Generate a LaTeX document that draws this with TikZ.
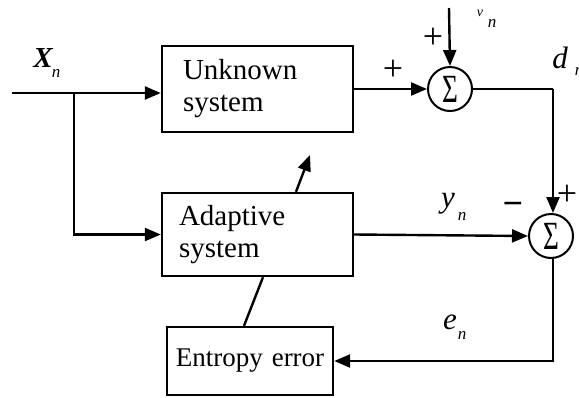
\documentclass[tikz,border=0pt]{standalone}
\usepackage{fontspec}
\usepackage{graphicx}
\setmainfont{Liberation Serif}
\usetikzlibrary{arrows.meta,calc}
\begin{document}
\begin{tikzpicture}[x=1pt,y=-1pt,
  line width=2.4pt,
  >={Triangle[length=16pt,width=13pt]},
  blk/.style={draw,line width=2.4pt,rectangle,font=\fontsize{29}{32}\selectfont,align=left,inner ysep=0pt},
  sumc/.style={draw,circle,line width=2pt,minimum size=44pt,inner sep=0pt,font=\fontsize{40}{40}\selectfont},
  sgn/.style={font=\fontsize{36}{36}\selectfont,inner sep=0pt},
  lbl/.style={font=\fontsize{31}{31}\selectfont\itshape,inner sep=0pt},
  sub/.style={font=\fontsize{17}{17}\selectfont\itshape,inner sep=0pt}]
\useasboundingbox (0,0) rectangle (579,397);
% blocks
\node[blk,minimum width=191pt,minimum height=86pt,text width=149pt,inner xsep=21pt] (unk) at (257.5,89) {Unknown\\system};
\node[blk,minimum width=191pt,minimum height=83pt,text width=157pt,inner xsep=17pt] (ada) at (257.5,234.5) {Adaptive\\system};
\node[blk,font=\fontsize{27}{30}\selectfont,minimum width=166pt,minimum height=68pt,text width=160pt,inner xsep=3pt,align=center] (ent) at (250,361) {Entropy error};
% summing junctions
\node[sumc] (s1) at (450,89) {\scalebox{0.68}[1]{Σ}};
\node[sumc] (s2) at (551,236) {\scalebox{0.68}[1]{Σ}};
% coordinates
\coordinate (in) at (12,93);
\coordinate (br) at (74,93);
\coordinate (vtop) at (449,8);
\coordinate (tip) at (310,155);
\coordinate (corner) at (553,89);
% connectors
\draw[->] (in) -- (in -| unk.west);
\draw[->] (br) |- (ada.west);
\draw[->] (unk.east) -- (s1.west);
\draw[->] (vtop) -- (s1.north);
\draw (s1.east) -- (corner);
\draw[->] (corner) -- (corner |- s2.north);
\draw[->] (ada.east) -- (s2.west);
\draw[->] (corner |- s2.south) |- (ent.east);
\draw ([xshift=-6pt]ent.north) -- ([xshift=5.5pt]ada.south);
\draw[->] ([xshift=38.5pt]ada.north) -- (tip);
% signs
\node[sgn] (p1) at (433,38) {+};
\node[sgn] (p2) at (393,70) {+};
\node[sgn] (p3) at (567,195) {+};
\node[sgn,font=\fontsize{36}{36}\selectfont\bfseries] (m1) at (513,209) {−};
% labels
\node[font=\fontsize{29}{29}\selectfont\bfseries\itshape,inner sep=0pt] (xl) at (43,58) {X};
\node[sub] (xs) at (56,73) {n};
\node[font=\fontsize{14}{14}\selectfont\itshape,inner sep=0pt] (vl) at (480,13) {v};
\node[sub] (vs) at (492,23) {n};
\node[lbl] (dl) at (560,58) {d};
\node[sub] (ds) at (579,71) {n};
\node[lbl] (yl) at (448,204) {y};
\node[sub] (ys) at (462,216) {n};
\node[lbl] (el) at (450,322) {e};
\node[sub] (es) at (462,335) {n};
\end{tikzpicture}
\end{document}
